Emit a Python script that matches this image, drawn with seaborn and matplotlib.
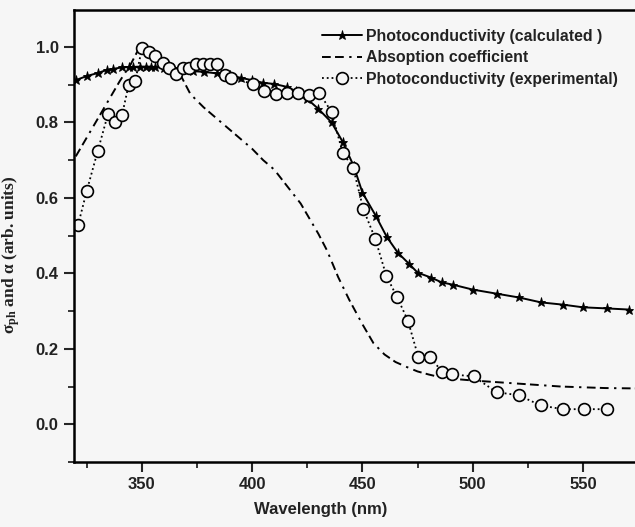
import matplotlib
matplotlib.use("Agg")
import matplotlib.pyplot as plt
import seaborn as sns
import pandas as pd
from matplotlib.ticker import MultipleLocator

# ---------------- data ----------------
calc_wl = [320, 325, 330, 334, 337, 341, 344, 346, 349, 352, 354, 356, 360, 364, 368,
           373, 378, 384, 390, 395, 400, 405, 410, 416, 420, 425, 430, 436, 441, 446,
           450, 456, 461, 466, 471, 475, 481, 486, 491, 500, 511, 521, 531, 541, 550,
           561, 571]
calc_val = [0.912, 0.923, 0.931, 0.939, 0.942, 0.946, 0.947, 0.947, 0.948, 0.948, 0.948,
            0.947, 0.945, 0.943, 0.939, 0.936, 0.934, 0.930, 0.925, 0.918, 0.912, 0.905,
            0.902, 0.894, 0.882, 0.862, 0.836, 0.800, 0.749, 0.685, 0.614, 0.553, 0.497,
            0.455, 0.426, 0.402, 0.389, 0.376, 0.370, 0.357, 0.346, 0.336, 0.323, 0.317,
            0.310, 0.307, 0.304]

abs_wl = [320, 325, 330, 335, 340, 345, 349, 353, 358, 363, 368, 372, 378, 384, 390, 395,
          400, 405, 410, 414, 418, 422, 426, 430, 434, 439, 444, 450, 455, 460, 465, 470,
          475, 480, 485, 490, 500, 510, 520, 530, 540, 550, 560, 574]
abs_val = [0.71, 0.76, 0.81, 0.86, 0.91, 0.955, 1.0, 0.985, 0.97, 0.95, 0.92, 0.875, 0.84,
           0.81, 0.78, 0.755, 0.73, 0.70, 0.675, 0.645, 0.615, 0.585, 0.545, 0.505, 0.46,
           0.39, 0.33, 0.265, 0.215, 0.185, 0.165, 0.152, 0.14, 0.132, 0.125, 0.121, 0.116,
           0.112, 0.108, 0.104, 0.10, 0.098, 0.096, 0.095]

exp_wl = [321, 325, 330, 334.6, 338, 341, 344, 347, 350, 353, 356, 359.5, 362.3, 365.4,
          368.5, 371.4, 374.5, 377.6, 380.8, 384, 387.6, 390.4, 400.4, 405.4, 410.8, 415.8,
          420.8, 425.8, 430.4, 436, 441, 445.8, 450.4, 455.8, 460.8, 465.8, 470.6, 475.4,
          480.8, 486.3, 490.8, 500.4, 510.8, 520.8, 530.8, 540.8, 550.4, 560.8]
exp_val = [0.527, 0.619, 0.725, 0.822, 0.802, 0.820, 0.900, 0.910, 0.997, 0.987, 0.976,
           0.958, 0.944, 0.929, 0.944, 0.944, 0.955, 0.955, 0.955, 0.955, 0.926, 0.918,
           0.902, 0.884, 0.876, 0.878, 0.878, 0.873, 0.878, 0.828, 0.720, 0.680, 0.570,
           0.492, 0.394, 0.336, 0.275, 0.177, 0.177, 0.138, 0.132, 0.127, 0.085, 0.077,
           0.050, 0.040, 0.040, 0.040]

labels = ["Photoconductivity (calculated )", "Absoption coefficient",
          "Photoconductivity (experimental)"]
x_ticks = [350, 400, 450, 500, 550]
y_ticks = [0.0, 0.2, 0.4, 0.6, 0.8, 1.0]

# ---------------- style ----------------
sns.set_style("ticks")
plt.rcParams["font.family"] = ["Liberation Sans", "DejaVu Sans"]
plt.rcParams["mathtext.fontset"] = "custom"
plt.rcParams["mathtext.rm"] = "Liberation Serif"
plt.rcParams["mathtext.it"] = "Liberation Serif:italic"
plt.rcParams["mathtext.bf"] = "Liberation Serif:bold"

W, H = 635, 527
fig = plt.figure(figsize=(W / 100, H / 100), dpi=100)
fig.patch.set_facecolor("#f6f6f6")
ax = fig.add_axes([74 / W, 65 / H, (W - 74) / W, (462 - 10) / H])
ax.set_facecolor("#f6f6f6")

df_c = pd.DataFrame({"wl": calc_wl, "v": calc_val})
df_a = pd.DataFrame({"wl": abs_wl, "v": abs_val})
df_e = pd.DataFrame({"wl": exp_wl, "v": exp_val})

sns.lineplot(data=df_c, x="wl", y="v", ax=ax, color="black", lw=1.4,
             marker="*", markersize=6.5, markeredgewidth=0.6,
             markerfacecolor="black", markeredgecolor="black",
             label=labels[0], sort=True, estimator=None)
sns.lineplot(data=df_a, x="wl", y="v", ax=ax, color="black", lw=1.4,
             dashes=False, label=labels[1], estimator=None)
ax.lines[-1].set_dashes((4.5, 2.2, 4.5, 2.8, 1.2, 2.8))
sns.lineplot(data=df_e, x="wl", y="v", ax=ax, color="black", lw=1.3,
             marker="o", markersize=8.5, markeredgewidth=1.2,
             markerfacecolor="#f6f6f6", markeredgecolor="black",
             label=labels[2], estimator=None)
ax.lines[-1].set_linestyle(":")

ax.set_xlim(319.2, 573.6)
ax.set_ylim(-0.1, 1.098)
ax.set_xticks(x_ticks)
ax.set_yticks(y_ticks)
ax.set_xticklabels([str(t) for t in x_ticks])
ax.set_yticklabels([f"{t:.1f}" for t in y_ticks])
ax.xaxis.set_minor_locator(MultipleLocator(25))
ax.yaxis.set_minor_locator(MultipleLocator(0.1))
ax.tick_params(which="major", direction="out", length=7, width=1.5,
               labelsize=12, pad=4)
ax.tick_params(which="minor", direction="out", length=4.5, width=1.3)
ax.tick_params(top=False, right=False, which="both")
for lab in ax.get_xticklabels() + ax.get_yticklabels():
    lab.set_fontweight("bold")
    lab.set_color("#222222")

for side in ["left", "bottom", "top"]:
    ax.spines[side].set_visible(True)
    ax.spines[side].set_linewidth(1.8)
    ax.spines[side].set_color("black")
ax.spines["right"].set_visible(False)

ax.set_xlabel("Wavelength (nm)", fontsize=12, fontweight="bold", color="#222222")
ax.xaxis.set_label_coords((321 - 74) / (W - 74), -40 / (462 - 10))
ax.set_ylabel(r"$\mathbf{\sigma_{ph}}$" + " and α (arb. units)",
              fontsize=12.5, fontweight="bold", family=["Liberation Serif", "DejaVu Serif"],
              color="#222222")
ax.yaxis.set_label_coords(-52 / (W - 74), (462 - 255) / (462 - 10))

leg = ax.legend(loc="upper left", bbox_to_anchor=(322 / W, 1 - 29 / H),
                bbox_transform=fig.transFigure, frameon=False, borderpad=0,
                borderaxespad=0, handlelength=2.5, handletextpad=0.3,
                labelspacing=0.4,
                prop={"family": "Liberation Sans", "weight": "bold", "size": 11.4})
for t in leg.get_texts():
    t.set_color("#222222")

fig.savefig("out.png", dpi=100, facecolor=fig.get_facecolor())
